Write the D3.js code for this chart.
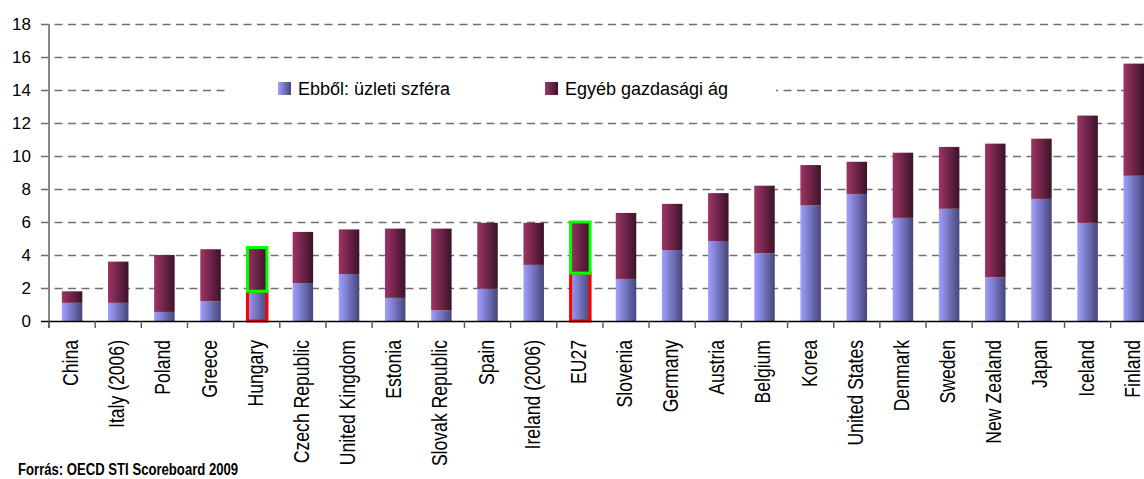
<!DOCTYPE html>
<html>
<head>
<meta charset="utf-8">
<script src="https://cdn.jsdelivr.net/npm/d3@7"></script>
<style>
  html, body { margin: 0; padding: 0; background: #fff; }
  svg { display: block; }
</style>
</head>
<body>
<script>
const categories = ["China","Italy (2006)","Poland","Greece","Hungary","Czech Republic","United Kingdom","Estonia","Slovak Republic","Spain","Ireland (2006)","EU27","Slovenia","Germany","Austria","Belgium","Korea","United States","Denmark","Sweden","New Zealand","Japan","Iceland","Finland"];
// Ebből: üzleti szféra (business sector)
const business = [1.1,1.1,0.55,1.2,1.8,2.3,2.85,1.4,0.65,1.95,3.4,2.9,2.55,4.3,4.85,4.1,7.0,7.7,6.25,6.8,2.65,7.4,5.95,8.8];
// Egyéb gazdasági ág (other)
const other = [0.7,2.5,3.45,3.15,2.65,3.1,2.7,4.2,4.95,4.0,2.55,3.1,4.0,2.8,2.9,4.1,2.45,1.95,3.95,3.75,8.1,3.65,6.5,6.8];
const yTicks = [0,2,4,6,8,10,12,14,16,18];
const seriesNames = ["Ebből: üzleti szféra","Egyéb gazdasági ág"];
const highlighted = ["Hungary","EU27"];
const sourceText = "Forrás: OECD STI Scoreboard 2009";

const W = 1144, H = 479;
const svg = d3.select("body").append("svg").attr("width", W).attr("height", H);

const defs = svg.append("defs");
function grad(id, c0, c1) {
  const g = defs.append("linearGradient").attr("id", id)
    .attr("x1","0%").attr("y1","0%").attr("x2","100%").attr("y2","0%");
  g.append("stop").attr("offset","0%").attr("stop-color", c0);
  g.append("stop").attr("offset","100%").attr("stop-color", c1);
}
grad("gBlue", "#a0a0ff", "#46467a");
grad("gPurple", "#9e3466", "#3c1329");

const step = 46.16;
const x = d3.scaleBand().domain(categories)
  .range([49, 49 + categories.length * step])
  .paddingInner(0.556).paddingOuter(0.278);
const y = d3.scaleLinear().domain([0, 18]).range([321, 24]);

// gridlines
svg.append("g").selectAll("line").data(yTicks.filter(d => d > 0)).join("line")
  .attr("x1", 41).attr("x2", W)
  .attr("y1", d => Math.round(y(d)) + 0.5).attr("y2", d => Math.round(y(d)) + 0.5)
  .attr("stroke", "#707070").attr("stroke-width", 1.6)
  .attr("stroke-dasharray", "8,5.5");

// y axis labels
const yAxis = svg.append("g").attr("transform", "translate(49,0)")
  .call(d3.axisLeft(y).tickValues(yTicks).tickSize(0).tickPadding(18));
yAxis.select(".domain").remove();
yAxis.selectAll("text")
  .attr("font-family", "'Liberation Sans', Arial, sans-serif")
  .attr("font-size", 17).attr("fill", "#000");

// legend box
svg.append("rect").attr("x", 227).attr("y", 76).attr("width", 549).attr("height", 28).attr("fill", "#fff");

// bars
const data = categories.map((c, i) => ({ cat: c, business: business[i], other: other[i] }));
const stack = d3.stack().keys(["business", "other"]);
const stacked = stack(data);
const fills = ["url(#gBlue)", "url(#gPurple)"];
svg.append("g").selectAll("g").data(stacked).join("g")
  .attr("fill", (d, i) => fills[i])
  .selectAll("rect").data(d => d).join("rect")
  .attr("x", d => x(d.data.cat))
  .attr("width", x.bandwidth())
  .attr("y", d => y(d[1]))
  .attr("height", d => y(d[0]) - y(d[1]));

// highlight outlines
const hl = svg.append("g").attr("fill", "none").attr("stroke-width", 3);
stacked.forEach((s, i) => {
  hl.selectAll(null).data(s.filter(d => highlighted.includes(d.data.cat))).join("rect")
    .attr("x", d => x(d.data.cat) + 1)
    .attr("width", x.bandwidth() - 1)
    .attr("y", d => y(d[1]))
    .attr("height", d => y(d[0]) - y(d[1]))
    .attr("stroke", i === 0 ? "#ff0000" : "#00ff00");
});

// axes lines
svg.append("line").attr("x1", 49).attr("x2", 49).attr("y1", y(18)).attr("y2", 328)
  .attr("stroke", "#7a7a7a").attr("stroke-width", 1.8);
svg.append("line").attr("x1", 41).attr("x2", W).attr("y1", 321.5).attr("y2", 321.5)
  .attr("stroke", "#000").attr("stroke-width", 1.6);
svg.append("g").selectAll("line").data(d3.range(categories.length + 1)).join("line")
  .attr("x1", i => 49 + i * x.step()).attr("x2", i => 49 + i * x.step())
  .attr("y1", 321).attr("y2", 328)
  .attr("stroke", "#555").attr("stroke-width", 1.4);

// x labels
const xAxis = svg.append("g").attr("transform", "translate(0,321)")
  .call(d3.axisBottom(x).tickSize(0));
xAxis.select(".domain").remove();
xAxis.selectAll("text")
  .attr("transform", "translate(6,19) rotate(-90) scale(0.8,1)")
  .attr("text-anchor", "end")
  .attr("x", 0).attr("y", 0).attr("dy", 0)
  .attr("font-family", "'Liberation Sans', Arial, sans-serif")
  .attr("font-size", 22).attr("fill", "#000");

// legend
const leg = svg.append("g").attr("font-family", "'Liberation Sans', Arial, sans-serif").attr("font-size", 18);
const legX = [278, 545];
seriesNames.forEach((n, i) => {
  leg.append("rect").attr("x", legX[i]).attr("y", 82).attr("width", 13).attr("height", 13).attr("fill", fills[i]);
  leg.append("text").attr("x", legX[i] + 20).attr("y", 95).text(n);
});

// source
svg.append("text").attr("transform", "translate(18,475) scale(0.82,1)")
  .attr("font-family", "'Liberation Sans', Arial, sans-serif")
  .attr("font-weight", "bold").attr("font-size", 16).text(sourceText);
</script>
</body>
</html>
